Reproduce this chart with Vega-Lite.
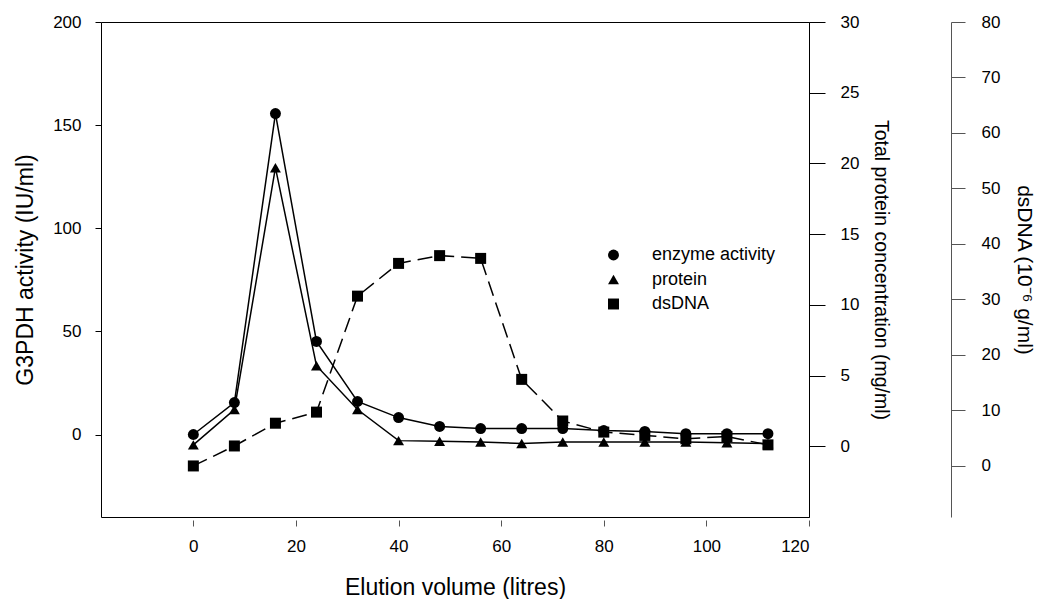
{
  "$schema": "https://vega.github.io/schema/vega-lite/v6.json",
  "width": 708,
  "height": 495,
  "autosize": "none",
  "padding": {"left": 101, "top": 22, "right": 231, "bottom": 82},
  "background": "white",
  "config": {
    "view": {"stroke": "black", "strokeWidth": 1},
    "font": "Liberation Sans",
    "axis": {"labelFont": "Liberation Sans", "titleFont": "Liberation Sans", "labelColor": "black", "titleColor": "black", "titleFontWeight": "normal", "tickColor": "black", "domainColor": "black", "grid": false, "labelFontSize": 17, "titleFontSize": 22},
    "legend": {"labelFont": "Liberation Sans", "labelFontSize": 18, "labelColor": "black"}
  },
  "data": {"values": [
    {"v": 0, "enzyme": 0.0, "protein": 0.1, "dsDNA": 0.0},
    {"v": 8, "enzyme": 15.5, "protein": 2.6, "dsDNA": 3.6},
    {"v": 16, "enzyme": 155.6, "protein": 19.7, "dsDNA": 7.7},
    {"v": 24, "enzyme": 45.1, "protein": 5.7, "dsDNA": 9.7},
    {"v": 32, "enzyme": 16.0, "protein": 2.6, "dsDNA": 30.6},
    {"v": 40, "enzyme": 8.2, "protein": 0.4, "dsDNA": 36.5},
    {"v": 48, "enzyme": 3.9, "protein": 0.35, "dsDNA": 37.9},
    {"v": 56, "enzyme": 2.9, "protein": 0.3, "dsDNA": 37.4},
    {"v": 64, "enzyme": 2.9, "protein": 0.2, "dsDNA": 15.6},
    {"v": 72, "enzyme": 2.9, "protein": 0.3, "dsDNA": 8.1},
    {"v": 80, "enzyme": 1.9, "protein": 0.3, "dsDNA": 6.1},
    {"v": 88, "enzyme": 1.5, "protein": 0.3, "dsDNA": 5.5},
    {"v": 96, "enzyme": 0.4, "protein": 0.3, "dsDNA": 4.9},
    {"v": 104, "enzyme": 0.4, "protein": 0.25, "dsDNA": 5.3},
    {"v": 112, "enzyme": 0.4, "protein": 0.2, "dsDNA": 3.8}
  ]},
  "encoding": {
    "x": {"field": "v", "type": "quantitative",
      "scale": {"domain": [-18, 120], "nice": false, "zero": false},
      "axis": {"values": [0, 20, 40, 60, 80, 100, 120], "domain": false, "offset": 3, "tickSize": 6, "tickColor": "#555", "labelPadding": 12, "title": "Elution volume (litres)", "titleFontSize": 23, "titlePadding": 22}}
  },
  "layer": [
    {
      "encoding": {
        "y": {"field": "enzyme", "type": "quantitative",
          "scale": {"domain": [-40, 200], "nice": false, "zero": false},
          "axis": {"orient": "left", "values": [0, 50, 100, 150, 200], "domain": false, "tickSize": 6, "labelPadding": 14, "title": "G3PDH activity (IU/ml)", "titleFontSize": 23, "titlePadding": 15}}
      },
      "layer": [
        {"mark": {"type": "line", "color": "black", "strokeWidth": 1.5}},
        {"mark": {"type": "point", "filled": true, "color": "black", "opacity": 1, "size": 120},
         "encoding": {"shape": {"datum": "enzyme activity",
           "scale": {"domain": ["enzyme activity", "protein", "dsDNA"], "range": ["circle", "triangle-up", "square"]},
           "legend": {"title": null, "orient": "none", "legendX": 503.5, "legendY": 224, "padding": 0,
             "symbolSize": 120, "rowPadding": 6.5, "labelOffset": 29.5,
             "symbolFillColor": "black", "symbolStrokeColor": "black", "symbolOpacity": 1}}}}
      ]
    },
    {
      "encoding": {
        "y": {"field": "protein", "type": "quantitative",
          "scale": {"domain": [-5, 30], "nice": false, "zero": false},
          "axis": {"orient": "right", "values": [0, 5, 10, 15, 20, 25, 30], "domain": true, "tickSize": 16, "labelPadding": 15, "title": "Total protein concentration (mg/ml)", "titleFontSize": 19.5, "titlePadding": 12}}
      },
      "layer": [
        {"mark": {"type": "line", "color": "black", "strokeWidth": 1.5}},
        {"mark": {"type": "point", "filled": true, "color": "black", "opacity": 1, "size": 120},
         "encoding": {"shape": {"datum": "protein"}}}
      ]
    },
    {
      "encoding": {
        "y": {"field": "dsDNA", "type": "quantitative",
          "scale": {"domain": [-9.2, 80], "nice": false, "zero": false},
          "axis": {"orient": "right", "offset": 142, "values": [0, 10, 20, 30, 40, 50, 60, 70, 80], "domain": true, "domainColor": "#555", "tickSize": 14, "tickColor": "#555", "labelPadding": 16, "title": "dsDNA (10⁻⁶ g/ml)", "titleFontSize": 21, "titlePadding": 14}}
      },
      "layer": [
        {"mark": {"type": "line", "color": "black", "strokeWidth": 1.5, "strokeDash": [15, 7]}},
        {"mark": {"type": "point", "filled": true, "color": "black", "opacity": 1, "size": 121},
         "encoding": {"shape": {"datum": "dsDNA"}}}
      ]
    }
  ],
  "resolve": {"scale": {"y": "independent"}, "axis": {"y": "independent"}}
}
